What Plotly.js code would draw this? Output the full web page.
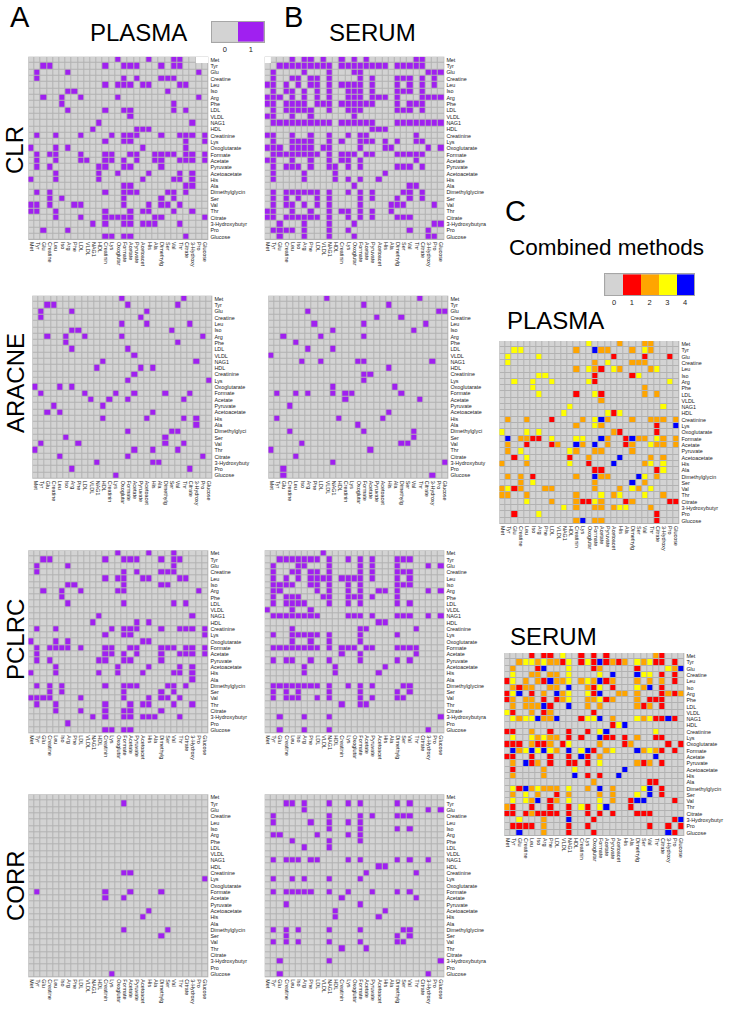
<!DOCTYPE html>
<html><head><meta charset="utf-8">
<script src="https://cdn.plot.ly/plotly-3.0.1.min.js"></script>
<style>html,body{margin:0;padding:0;background:#fff}#c{width:730px;height:1023px}</style>
</head><body><div id="c"></div>
<script>
const metabolites=["Met","Tyr","Glu","Creatine","Leu","Iso","Arg","Phe","LDL","VLDL","NAG1","HDL","Creatinine","Lys","Oxoglutarate","Formate","Acetate","Pyruvate","Acetoacetate","His","Ala","Dimethylglycine","Ser","Val","Thr","Citrate","3-Hydroxybutyrate","Pro","Glucose"];

const clrPlasma=[[14,19,23,24],[2,3,12,15,16,17,21,23,24],[1,6,27],[1,15,17,21,22,23],[12,14,15,16,18,19,24,25],[6,7,22],[2,5,8,14,27],[5,23],[6,12,15,16,23,25],[16],[11,26],[10,17,18,19],[1,4,8,13,15,16,17,21,24,25,26,28],[12,15,16,25,28],[0,4,6,18,25],[1,3,4,8,12,13,16,17,20,21,22,23,25,26,28],[1,4,8,9,12,13,15,17,20,21,24,25,26,28],[1,3,11,12,15,16,21],[4,11,14,19,24,26],[0,4,11,18,23,24,26],[15,16,25,26],[1,3,12,15,16,17,22,23,25],[3,5,15,21,23],[0,1,3,7,8,15,19,21,22,24],[0,1,4,12,16,18,19,23,26],[4,8,12,13,14,15,16,20,21,28],[10,12,15,16,18,19,20,24],[2,6],[12,13,15,16,25]];
const clrSerum=[[4,6,7,9,12,14,16,24,25],[2,3,4,5,6,7,8,9,10,12,13,14,15,16,17,18,19,21,22,23,24,25],[1,6,10,14,15,26,27,28],[1,4,5,7,8,10,15,17,21,22,23,25,27],[0,1,3,5,7,8,10,12,13,14,15,17,21,23,25,27],[1,3,4,6,8,10,13,14,15,17,21,22,23,25],[0,1,2,4,6,8,10,13,14,15,17,18,19,21,25,26,27,28],[0,1,3,4,5,6,8,9,10,12,13,14,15,16,17,21,23,24,25],[1,3,4,5,6,7,10,13,14,15,21,22,23,25],[0,1,4,7,14],[1,2,3,4,5,6,7,8,9,10,12,13,14,15,16,17,21,22,23,24,25,26,27,28],[17,18,19],[0,1,4,7,10,13,15,16,24],[1,4,5,6,7,10,12,15,16,17,19,21,24,25],[0,1,2,4,5,6,7,9,10,15,19,20,26,28],[1,2,3,4,5,6,7,8,10,12,13,14,16,17,21,22,23,24,25],[0,1,4,7,10,12,13,15,24],[1,3,4,5,7,10,11,13,15,21,22,23,25],[1,6,11,19],[1,6,11,13,15,18],[14,23,24],[1,3,4,5,6,7,8,10,13,15,17,22,23,25],[1,3,5,8,10,15,17,21,23,25],[1,3,4,6,8,10,15,20,21,22,27],[0,1,4,7,10,12,13,15,17,20],[0,1,3,4,5,6,7,8,10,13,15,17,21,22,23],[2,6,10,14,27,28],[1,2,3,4,6,10,13,23,26],[2,6,10,14,26,27]];
const aracnePlasma=[[14,24],[2,3,15,23],[1,6,18],[1,17],[14,18,25],[6,7,22],[2,5,8,14,27],[5,23],[6,15],[16],[11,26],[10,17,19],[16],[15,28],[0,4,6],[1,8,13,16,21,25],[9,12,15,24],[3,11],[2,4,19],[11,18,24,26],[26],[15,22,23],[5,21],[1,7,21,24],[0,16,19,23],[4,15,27],[10,19,20],[6,25],[13]];
const aracneSerum=[[9,24],[15,19],[6,27,28],[17,21],[7,15,25],[10,23],[2,8,15],[4],[6,10],[0],[5,8,14,15,26],[19],[15,16],[15],[10,20],[1,4,6,10,12,13,21],[12,24],[3],[19],[1,11,18],[14],[3,15,23],[23],[5,21,22],[0,16],[4],[10,28],[2],[2,26]];
const pclrcPlasma=[[14,19,23],[2,3,12,15,16,17,21,23,24],[1,6,23],[1,15,17,21,22,23],[12,14,15,18,19,24,25],[6,7,15,21,22],[2,5,8,14,15,27],[5],[6,15,23,25],[],[11,26],[10,17,19],[1,4,13,15,16,17,21,24,25,26,28],[12,15,16,28],[0,4,6,18,19],[1,3,4,5,6,8,12,13,16,17,21,22,23,25,26,28],[1,12,13,15,17,21,24,25,26,28],[1,3,11,12,15,16,21],[4,14,19,24,26],[0,4,11,14,18,23,24,26],[26],[1,3,5,12,15,16,17,22,23,25],[3,5,15,21,23],[0,1,2,3,8,15,19,21,22,24],[1,4,12,16,18,19,23,26],[4,8,12,15,16,21],[10,12,15,16,18,19,20,24],[6],[12,13,15,16]];
const pclrcSerum=[[9],[2,3,4,5,6,7,8,10,13,15,17,21,22,23],[1,5,6,10,15,17,21,26,28],[1,4,5,7,8,10,15,17,21,22,23],[1,3,5,7,8,9,10,12,13,14,15,17,21,23],[1,2,3,4,7,8,10,13,15,21,22,23],[1,2,8,10,13,15,18,19,21,26,28],[1,3,4,5,9,10,13,14,15,17,21],[1,3,4,5,6,10,13,15,21,23],[0,4,7],[1,2,3,4,5,6,7,8,13,14,15,17,21,22,23,26,28],[18,19],[4,15,16,24],[1,4,5,6,7,8,10,15,21],[4,7,10,15],[1,2,3,4,5,6,7,8,10,12,13,14,16,17,21,22,23,24],[12,15,24],[1,3,4,7,10,15,21,23],[6,11,19],[6,11,18],[],[1,2,3,4,5,6,7,8,10,13,15,17,22,23],[1,3,5,10,15,21,23],[1,3,4,5,8,10,15,17,21,22],[12,15,16],[],[2,6,10,28],[],[2,6,10,26]];
const corrPlasma=[[],[15],[],[],[],[],[],[],[],[],[],[],[15,16],[28],[],[1,12,16,21],[12,15],[],[19],[18],[],[15,22],[21],[],[],[],[],[],[13]];
const corrSerum=[[],[3,4,6,10,13,15,21,23],[6,26,28],[1,10,15,17,21,22,23],[1,7,10,13,15],[10,15,21,23],[1,2,8,13,15],[4,10,15],[6,10],[],[1,3,4,5,7,8,13,15,21,23,26],[18,19],[16,24],[1,4,6,10,15],[],[1,3,4,5,6,7,10,13,17,21,23],[12,24],[3,15],[11,19],[11,18],[],[1,3,5,10,15,22,23],[3,21,23],[1,3,5,10,15,21,22],[12,16],[],[2,10,28],[],[2,26]];

const combinedPlasma=["14:3 19:2 23:2 24:2","2:3 3:3 12:2 15:4 16:2 17:2 21:2 23:3 24:2","1:3 6:3 18:1 23:1 27:1","1:3 15:2 17:3 21:2 22:2 23:2","12:2 14:3 15:2 16:1 18:3 19:2 24:2 25:3","6:3 7:3 15:1 21:1 22:3","2:3 5:3 8:3 14:3 15:1 27:3","5:3 23:2","6:3 12:1 15:3 16:1 23:2 25:2","16:2","11:3 26:3","10:3 17:3 18:1 19:3","1:2 4:2 8:1 13:2 15:3 16:4 17:2 21:2 24:2 25:2 26:2 28:2","12:2 15:3 16:2 25:1 28:4","0:3 4:3 6:3 18:2 19:1 25:1","1:4 3:2 4:2 5:1 6:1 8:3 12:3 13:3 16:4 17:2 20:1 21:4 22:2 23:2 25:3 26:2 28:2","1:2 4:1 8:1 9:2 12:4 13:2 15:4 17:2 20:1 21:2 24:3 25:2 26:2 28:2","1:2 3:3 11:3 12:2 15:2 16:2 21:2","2:1 4:3 11:1 14:2 19:4 24:2 26:2","0:2 4:2 11:3 14:1 18:4 23:2 24:3 26:3","15:1 16:1 25:1 26:3","1:2 3:2 5:1 12:2 15:4 16:2 17:2 22:4 23:3 25:2","3:2 5:3 15:2 21:4 23:2","0:2 1:3 2:1 3:2 7:2 8:2 15:2 19:2 21:3 22:2 24:3","0:2 1:2 4:2 12:2 16:3 18:2 19:3 23:3 26:2","4:3 8:2 12:2 13:1 14:1 15:3 16:2 20:1 21:2 27:1 28:1","10:3 12:2 15:2 16:2 18:2 19:3 20:3 24:2","2:1 6:3 25:1","12:2 13:4 15:2 16:2 25:1"];
const combinedSerum=["4:1 6:1 7:1 9:3 12:1 14:1 16:1 24:2 25:1","2:2 3:3 4:3 5:2 6:3 7:2 8:2 9:1 10:3 12:1 13:3 14:1 15:4 16:1 17:2 18:1 19:2 21:3 22:2 23:3 24:1 25:1 27:1","1:2 5:1 6:4 10:3 14:1 15:2 21:1 26:3 27:2 28:4","1:3 4:2 5:2 7:2 8:2 10:3 15:3 17:4 21:4 22:3 23:3 25:1 27:1","0:1 1:3 3:2 5:2 6:1 7:4 8:2 9:2 10:3 12:2 13:3 14:2 15:4 16:1 17:2 21:2 23:2 25:2 27:1","1:2 2:1 3:2 4:2 7:2 8:2 10:4 13:2 14:1 15:3 17:1 21:3 22:2 23:4 25:1","0:1 1:3 2:4 4:1 6:2 8:4 9:2 10:3 13:3 14:1 15:4 18:2 19:2 21:2 25:1 26:2 27:1 28:2","0:1 1:2 3:2 4:2 6:1 8:1 9:2 10:3 13:2 14:2 15:3 16:1 17:2 21:2 23:1 24:1 25:1","1:2 3:2 4:2 5:2 6:4 7:1 10:4 13:2 15:2 21:2 22:1 23:2 25:1","0:3 1:1 4:2 6:1 7:2 14:1","1:3 2:2 3:3 4:3 5:4 6:2 7:2 8:4 12:1 13:3 14:3 15:4 17:2 21:3 22:2 23:3 24:1 25:1 26:4 27:1","17:1 18:3 19:4","0:1 1:1 4:2 7:1 10:1 13:1 15:3 16:4 24:3","1:3 4:3 5:2 6:3 7:2 8:2 10:1 12:1 15:4 16:1 17:1 19:1 21:2 24:1 25:1","0:1 1:1 2:1 4:2 5:1 6:1 7:2 9:1 10:3 15:2 19:1 20:2 26:1 28:1","1:4 2:2 3:3 4:4 5:3 6:4 7:3 8:2 10:4 12:3 13:4 14:1 16:2 17:3 21:4 22:2 23:3 24:2 25:1 27:1","0:1 1:1 4:1 7:1 10:1 12:4 13:1 15:2 24:4","1:2 3:4 4:1 5:2 7:1 10:1 11:1 13:1 15:3 21:2 22:1 23:2 25:1","1:1 6:2 11:3 19:4","1:2 6:2 11:4 13:1 15:1 18:4","14:2 23:1 24:1","1:3 2:1 3:4 4:2 5:3 6:2 7:2 8:2 10:3 13:2 15:4 17:2 22:3 23:4 25:1","1:2 3:3 5:2 8:1 10:2 15:2 17:2 21:3 23:4 25:1","1:3 3:3 4:2 5:4 7:1 8:2 10:3 15:3 17:2 20:1 21:4 22:4 27:1","0:2 1:1 4:1 7:1 10:1 12:3 13:1 15:3 16:4 20:1","0:1 1:1 3:1 4:2 5:1 6:1 7:1 8:1 10:1 13:1 15:1 17:1 21:1 22:1 23:1","2:3 6:2 10:4 14:1 27:1 28:4","1:1 2:1 3:1 4:1 6:2 10:1 13:1 23:1 26:1 28:1","2:4 6:2 10:1 14:1 26:4 27:1"];

const legendBinary=[0,1];
const legendCombined=[0,1,2,3,4];
const GREY='#d3d3d3',PURPLE='#a020f0';
const binaryScale=[[0,GREY],[0.5,GREY],[0.5,PURPLE],[1,PURPLE]];
const comboScale=[[0,GREY],[0.25,'#ff0000'],[0.5,'#ffa500'],[0.75,'#ffff00'],[1,'#0000ff']];
const W=730,H=1023,n=metabolites.length;
const idx=metabolites.map((_,i)=>i);

function zFromLists(rows){return rows.map(r=>idx.map(c=>r.includes(c)?1:0));}
function zFromPairs(rows){return rows.map(s=>{const a=idx.map(()=>0);s.split(' ').forEach(p=>{const [c,v]=p.split(':');a[+c]=+v;});return a;});}

const panels=[
 {z:zFromLists(clrPlasma),box:[28.3,208.3,56.7,240],s:binaryScale,zmax:1,yc:14,mask:[26.5,28.5]},
 {z:zFromLists(clrSerum),box:[264.7,444.3,56.7,240],s:binaryScale,zmax:1,yc:15,mask:[-0.5,0.5]},
 {z:zFromLists(aracnePlasma),box:[32.3,212.3,295.7,478.7],s:binaryScale,zmax:1,yc:13},
 {z:zFromLists(aracneSerum),box:[268.3,448.3,295.7,478.7],s:binaryScale,zmax:1,yc:13},
 {z:zFromLists(pclrcPlasma),box:[28.3,208.3,550.3,733.3],s:binaryScale,zmax:1,yc:14},
 {z:zFromLists(pclrcSerum),box:[264.7,444.3,550.3,733.3],s:binaryScale,zmax:1,yc:15},
 {z:zFromLists(corrPlasma),box:[28.3,208.3,794.3,977.3],s:binaryScale,zmax:1,yc:14},
 {z:zFromLists(corrSerum),box:[264.7,444.3,794.3,977.3],s:binaryScale,zmax:1,yc:15},
 {z:zFromPairs(combinedPlasma),box:[499.3,679.3,341,524],s:comboScale,zmax:4,yc:14},
 {z:zFromPairs(combinedSerum),box:[504.3,684.3,653,836],s:comboScale,zmax:4,yc:14}
];
const FONT='Liberation Sans, Arial, sans-serif';
const layout={width:W,height:H,margin:{l:0,r:0,t:0,b:0},paper_bgcolor:'#fff',plot_bgcolor:'#b2b2b2',showlegend:false,font:{family:FONT,color:'#000'},annotations:[],shapes:[]};
const data=[];
panels.forEach((p,i)=>{
 const k=i+1,xa=k===1?'x':'x'+k,ya=k===1?'y':'y'+k;
 data.push({type:'heatmap',z:p.z,x:idx,y:idx,xaxis:xa,yaxis:ya,colorscale:p.s,zmin:0,zmax:p.zmax,showscale:false,xgap:1,ygap:1,hoverinfo:'skip'});
 const [x0,x1,y0,y1]=p.box;
 layout['xaxis'+k]={domain:[x0/W,x1/W],anchor:ya,range:[-0.5,n-0.5],tickmode:'array',tickvals:idx,ticktext:metabolites.map(m=>m.slice(0,9)),tickangle:90,tickfont:{size:5.4,color:'#222'},ticklen:0,showgrid:false,zeroline:false,showline:false,fixedrange:true};
 layout['yaxis'+k]={domain:[1-y1/H,1-y0/H],anchor:xa,side:'right',range:[n-0.5,-0.5],tickmode:'array',tickvals:idx,ticktext:metabolites.map(m=>m.slice(0,p.yc)),tickfont:{size:5.4,color:'#222'},ticklen:0,showgrid:false,zeroline:false,showline:false,fixedrange:true};
 if(p.mask)layout.shapes.push({type:'rect',xref:xa,yref:ya,x0:p.mask[0],x1:p.mask[1],y0:-0.5,y1:0.5,fillcolor:'#fff',line:{width:0},layer:'above'});
});
function legendAxis(k,vals,scale,box){
 const xa='x'+k,ya='y'+k,[x0,x1,y0,y1]=box;
 data.push({type:'heatmap',z:[vals],x:vals,y:[0],xaxis:xa,yaxis:ya,colorscale:scale,zmin:0,zmax:vals[vals.length-1],showscale:false,hoverinfo:'skip'});
 layout['xaxis'+k]={domain:[x0/W,x1/W],anchor:ya,range:[-0.5,vals.length-0.5],tickmode:'array',tickvals:vals,ticktext:vals.map(String),tickfont:{size:7.5,color:'#222'},ticklen:0,showgrid:false,zeroline:false,showline:true,linecolor:'#a6a6a6',mirror:true,fixedrange:true};
 layout['yaxis'+k]={domain:[1-y1/H,1-y0/H],anchor:xa,range:[-0.5,0.5],showticklabels:false,ticklen:0,showgrid:false,zeroline:false,showline:true,linecolor:'#a6a6a6',mirror:true,fixedrange:true};
}
legendAxis(11,legendBinary,binaryScale,[212,263.7,21.7,41.7]);
legendAxis(12,legendCombined,comboScale,[605.3,694,274.3,295]);

function txt(text,x,y,size,angle){layout.annotations.push({text,xref:'paper',yref:'paper',x:x/W,y:1-y/H,xanchor:'center',yanchor:'middle',showarrow:false,borderpad:0,font:{size,family:FONT,color:'#000'},textangle:angle||0});}
txt('A',20,17,29);txt('B',293,17,29);txt('C',515,211,29);
txt('PLASMA',138,33,24);txt('SERUM',373,33,24);
txt('Combined methods',606,247,22.5);
txt('PLASMA',555,321,24);txt('SERUM',553,636,24);
txt('CLR',15,150,24,-90);txt('ARACNE',15,383,24,-90);txt('PCLRC',15,640,24,-90);txt('CORR',15,886,24,-90);

Plotly.newPlot('c',data,layout,{displayModeBar:false,staticPlot:true});
</script></body></html>
